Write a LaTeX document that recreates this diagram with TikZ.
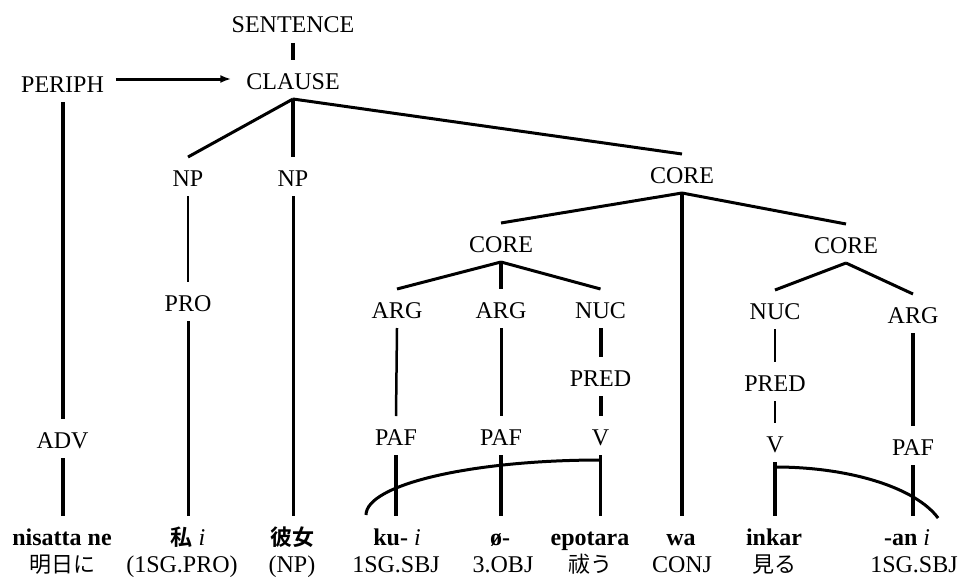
\documentclass[tikz,border=0pt]{standalone}
\usepackage{fontspec}
\setmainfont{Liberation Serif}
\newfontfamily\jpfont{Noto Sans CJK JP}[BoldFont={Noto Sans CJK JP Bold}]
\usetikzlibrary{arrows.meta}

\newcommand{\jp}[1]{{\jpfont\fontsize{22}{26}\selectfont #1}}

\begin{document}
\begin{tikzpicture}[x=1pt,y=-1pt,
  lbl/.style={inner sep=0pt, outer sep=0pt, text height=29pt, text depth=10pt,
              anchor=base, font=\fontsize{24}{28}\selectfont},
  gloss/.style={inner sep=0pt, anchor=base, font=\fontsize{24}{28}\selectfont},
  branch/.style={line width=3pt},
  stem/.style={line width=4pt},
  fine/.style={line width=2.5pt},
  linker/.style={line width=3pt},
  pointer/.style={line width=3pt, -{Latex[length=11pt,width=8pt]}}
]
\fill[white] (0,0) rectangle (960,578);
\useasboundingbox (0,0) rectangle (960,578);

% upper layers
\node[lbl] (S)   at (293,33)  {SENTENCE};
\node[lbl] (CL)  at (293,89)  {CLAUSE};
\node[lbl] (PE)  at (62.5,92) {PERIPH};
\node[lbl] (ADV) at (62.5,448) {ADV};
\node[lbl] (NPa) at (188,186) {NP};
\node[lbl] (NPb) at (293,186) {NP};
\node[lbl] (PRO) at (188,311) {PRO};
\node[lbl] (CT)  at (682,183) {CORE};
\node[lbl] (CLf) at (501,252) {CORE};
\node[lbl] (CRt) at (846,253) {CORE};

% left core
\node[lbl] (A1)   at (397,318) {ARG};
\node[lbl] (A2)   at (501,318) {ARG};
\node[lbl] (N1)   at (600.5,318) {NUC};
\node[lbl] (PR1)  at (600.5,386) {PRED};
\node[lbl] (PAF1) at (396,445) {PAF};
\node[lbl] (PAF2) at (501,445) {PAF};
\node[lbl] (V1)   at (600.5,445) {V};

% right core
\node[lbl] (N2)   at (775,319) {NUC};
\node[lbl] (A3)   at (913,323) {ARG};
\node[lbl] (PR2)  at (775,391) {PRED};
\node[lbl] (V2)   at (775,452) {V};
\node[lbl] (PAF3) at (913,455) {PAF};

% words
\node[lbl] (w1) at (62,545)  {\textbf{nisatta ne}};
\node[lbl] (w2) at (188,545) {\jp{\bfseries 私} \textit{i}};
\node[lbl] (w3) at (292,545) {\jp{\bfseries 彼女}};
\node[lbl] (w4) at (397,545) {\textbf{ku-} \textit{i}};
\node[lbl] (w5) at (500,545) {\textbf{ø-}};
\node[lbl] (w6) at (590,545) {\textbf{epotara}};
\node[lbl] (w7) at (681,545) {\textbf{wa}};
\node[lbl] (w8) at (774,545) {\textbf{inkar}};
\node[lbl] (w9) at (907,545) {\textbf{-an} \textit{i}};

% glosses
\node[gloss] (g1) at (62,572)  {\jp{明日に}};
\node[gloss] (g2) at (182,572) {(1SG.PRO)};
\node[gloss] (g3) at (292,572) {(NP)};
\node[gloss] (g4) at (396,572) {1SG.SBJ};
\node[gloss] (g5) at (503,572) {3.OBJ};
\node[gloss] (g6) at (590,572) {\jp{祓う}};
\node[gloss] (g7) at (682,572) {CONJ};
\node[gloss] (g8) at (774,572) {\jp{見る}};
\node[gloss] (g9) at (914,572) {1SG.SBJ};

% periphery
\draw[pointer] ([xshift=12pt,yshift=13pt]PE.base east) -- ([xshift=-15pt,yshift=10pt]CL.base west);
\draw[stem] (S.south) -- (CL.north);
\draw[stem] (PE.south) -- (ADV.north);
\draw[stem] (ADV.south) -- (ADV.south |- w1.north);

% clause
\draw[branch] (CL.south) -- (NPa.north);
\draw[stem]   (CL.south) -- (NPb.north);
\draw[branch] (CL.south) -- (CT.north);
\draw[fine]   (NPa.south) -- (PRO.north);
\draw[branch] (PRO.south) -- (w2.north);
\draw[branch] (NPb.south) -- (NPb.south |- w3.north);

% core junction
\draw[branch] (CT.south) -- (CLf.north);
\draw[stem]   (CT.south) -- (CT.south |- w7.north);
\draw[branch] (CT.south) -- (CRt.north);

% left core
\draw[branch] (CLf.south) -- (A1.north);
\draw[stem]   (CLf.south) -- (A2.north);
\draw[branch] (CLf.south) -- (N1.north);
\draw[fine]   (A1.south) -- (PAF1.north);
\draw[branch] (A2.south) -- (PAF2.north);
\draw[stem]   (N1.south) -- (PR1.north);
\draw[stem]   (PR1.south) -- (V1.north);
\draw[stem]   (PAF1.south) -- (PAF1.south |- w4.north);
\draw[stem]   (PAF2.south) -- (PAF2.south |- w5.north);
\draw[branch] (V1.south) -- (V1.south |- w6.north);

% right core
\draw[branch] (CRt.south) -- (N2.north);
\draw[branch] (CRt.south) -- (A3.north);
\draw[fine]   (N2.south) -- (PR2.north);
\draw[fine]   (PR2.south) -- (V2.north);
\draw[stem]   (A3.south) -- (PAF3.north);
\draw[stem]   (V2.south) -- (V2.south |- w8.north);
\draw[stem]   (PAF3.south) -- (PAF3.south |- w9.north);

% operator arcs binding the affixes to their verbs
\coordinate (arcL) at (366,515);
\coordinate (arcR) at (775,467);
\draw[linker] (arcL) arc[start angle=180, end angle=90, x radius=235pt, y radius=55pt];
\draw[linker] (arcR) arc[start angle=90, end angle=17.5, x radius=171pt, y radius=73pt];
\end{tikzpicture}
\end{document}
